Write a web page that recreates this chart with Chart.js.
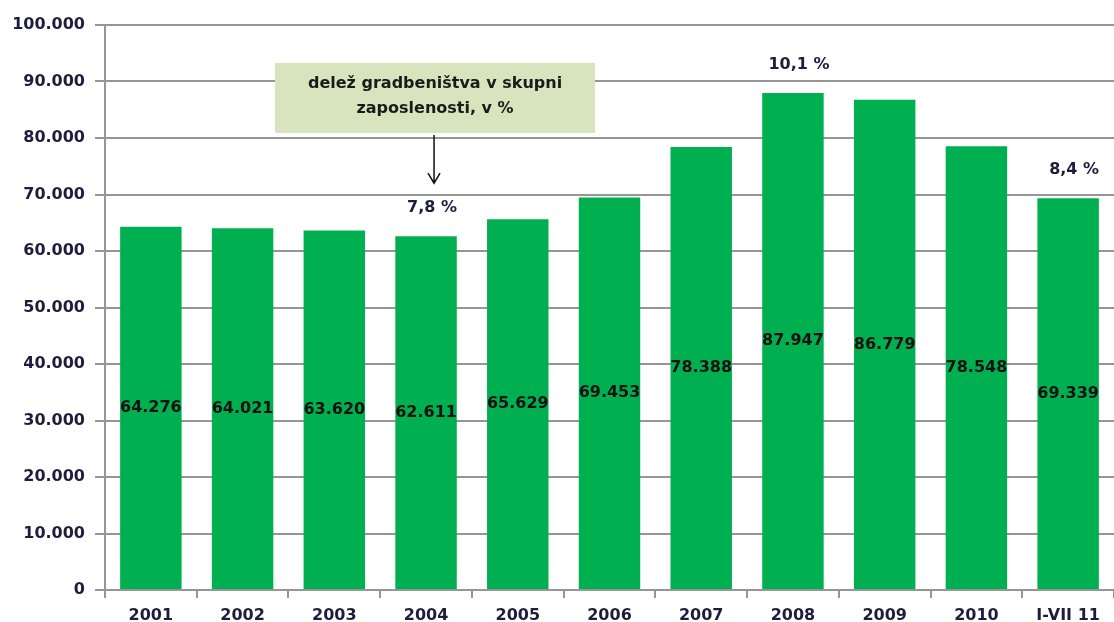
<!DOCTYPE html>
<html>
<head>
<meta charset="utf-8">
<script src="https://cdn.jsdelivr.net/npm/chart.js@4/dist/chart.umd.min.js"></script>
<style>
  html, body { margin: 0; padding: 0; background: #fff; }
  #wrap { width: 1114px; height: 622px; }
</style>
</head>
<body>
<div id="wrap"><canvas id="chart"></canvas></div>
<script>
const categories = ["2001", "2002", "2003", "2004", "2005", "2006", "2007", "2008", "2009", "2010", "I-VII 11"];
const employed = [64276, 64021, 63620, 62611, 65629, 69453, 78388, 87947, 86779, 78548, 69339];
// share of construction in total employment, shown only for some years
const sharePct = [null, null, null, 7.8, null, null, null, 10.1, null, null, 8.4];
const calloutLines = ["delež gradbeništva v skupni", "zaposlenosti, v %"];

const textColor = "#1e1e3c";
const gridColor = "#969696";
const fontFamily = "'DejaVu Sans', sans-serif";

function thousands(v) {
  return String(v).replace(/\B(?=(\d{3})+(?!\d))/g, ".");
}

const labelsPlugin = {
  id: "labels",
  afterDatasetsDraw(chart) {
    const ctx = chart.ctx;
    const meta = chart.getDatasetMeta(0);
    ctx.save();
    ctx.textAlign = "center";
    ctx.textBaseline = "middle";
    ctx.font = "bold 16px " + fontFamily;
    meta.data.forEach((bar, i) => {
      ctx.fillStyle = "#111";
      ctx.fillText(thousands(employed[i]), bar.x, (bar.y + bar.base) / 2);
      if (sharePct[i] != null) {
        ctx.fillStyle = textColor;
        ctx.fillText(String(sharePct[i]).replace(".", ",") + " %", bar.x + 6, bar.y - 28);
      }
    });
    ctx.restore();
  },
  afterDraw(chart) {
    // callout box pointing at the 2004 label
    const ctx = chart.ctx;
    const x = chart.scales.x;
    const y = chart.scales.y;
    const cx = x.getPixelForValue(3) + 9;
    const top = y.getPixelForValue(93300);
    const bottom = y.getPixelForValue(80900);
    const w = 320;
    ctx.save();
    ctx.fillStyle = "#d7e4bd";
    ctx.fillRect(cx - w / 2, top, w, bottom - top);
    ctx.fillStyle = "#1a1a1a";
    ctx.font = "bold 16px " + fontFamily;
    ctx.textAlign = "center";
    ctx.textBaseline = "middle";
    ctx.fillText(calloutLines[0], cx, top + 21);
    ctx.fillText(calloutLines[1], cx, top + 46);
    // arrow
    const ax = cx - 1;
    const aEnd = y.getPixelForValue(72000);
    ctx.strokeStyle = "#111";
    ctx.lineWidth = 1.5;
    ctx.beginPath();
    ctx.moveTo(ax, bottom + 2);
    ctx.lineTo(ax, aEnd);
    ctx.moveTo(ax - 6, aEnd - 10);
    ctx.lineTo(ax, aEnd);
    ctx.lineTo(ax + 6, aEnd - 10);
    ctx.stroke();
    ctx.restore();
  }
};

new Chart(document.getElementById("chart"), {
  type: "bar",
  data: {
    labels: categories,
    datasets: [{
      data: employed,
      backgroundColor: "#00b050",
      borderWidth: 0,
      barPercentage: 0.67,
      categoryPercentage: 1
    }]
  },
  options: {
    responsive: true,
    maintainAspectRatio: false,
    animation: false,
    layout: { padding: { top: 25, right: 0, left: 0, bottom: 0 } },
    plugins: {
      legend: { display: false },
      tooltip: { enabled: false }
    },
    scales: {
      x: {
        afterFit(scale) { scale.height = 32; },
        grid: {
          display: true,
          drawOnChartArea: false,
          drawTicks: true,
          tickLength: 8,
          offset: true,
          color: gridColor,
          lineWidth: 2
        },
        border: { color: gridColor, width: 2 },
        ticks: {
          color: textColor,
          font: { family: fontFamily, size: 16, weight: "bold" },
          padding: 8,
          maxRotation: 0
        }
      },
      y: {
        min: 0,
        max: 100000,
        afterFit(scale) { scale.width = 105; },
        grid: {
          color: gridColor,
          lineWidth: 2,
          tickLength: 10
        },
        border: { color: gridColor, width: 2 },
        ticks: {
          stepSize: 10000,
          color: textColor,
          padding: 10,
          font: { family: fontFamily, size: 16, weight: "bold" },
          callback: v => thousands(v)
        }
      }
    }
  },
  plugins: [labelsPlugin]
});
</script>
</body>
</html>
